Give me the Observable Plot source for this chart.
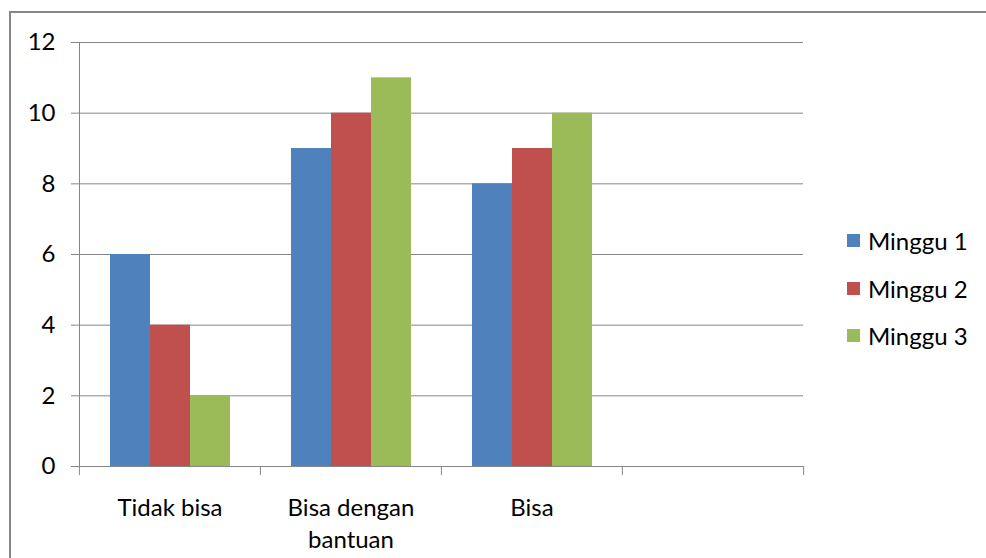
<!DOCTYPE html>
<html><head><meta charset="utf-8">
<script src="https://cdn.jsdelivr.net/npm/d3@7"></script>
<script src="https://cdn.jsdelivr.net/npm/@observablehq/plot@0.6"></script>
<style>
html,body{margin:0;padding:0;background:#fff;overflow:hidden;}
#wrap{position:relative;width:986px;height:558px;overflow:hidden;}
#border{position:absolute;left:9px;top:11px;width:1000px;height:600px;border:2px solid #878787;box-sizing:border-box;pointer-events:none;}
#legend{position:absolute;left:847px;top:217px;font-family:Lato, sans-serif;font-size:24px;color:#000;}
.item{display:flex;align-items:center;height:47.5px;}
.sw{width:13px;height:13px;margin-right:8px;flex:none;}
</style></head><body>
<div id="wrap"><div id="chart"></div><div id="legend"></div><div id="border"></div></div>
<script>
const categories = ["Tidak bisa", "Bisa dengan bantuan", "Bisa", ""];
const categoryLabels = ["Tidak bisa", "Bisa dengan\nbantuan", "Bisa", ""];
const series = ["Minggu 1", "Minggu 2", "Minggu 3"];
const minggu1 = [6, 9, 8];
const minggu2 = [4, 10, 9];
const minggu3 = [2, 11, 10];
const yTicks = [0, 2, 4, 6, 8, 10, 12];
const colors = ["#4f81bd", "#c0504d", "#9bbb59"];

const values = [minggu1, minggu2, minggu3];
const rows = [];
minggu1.forEach((_, i) => series.forEach((s, j) => rows.push({cat: categories[i], series: s, value: values[j][i]})));

const W = 986, H = 558, ml = 78, mr = 183, mt = 42, mb = 92;
const half = (W - ml - mr) / categories.length / 2;
const gray = "#868686";

const plot = Plot.plot({
  width: W, height: H,
  marginLeft: ml, marginRight: mr, marginTop: mt, marginBottom: mb,
  style: {fontFamily: "Lato, sans-serif", fontSize: "24px", color: "#000", background: "transparent"},
  fx: {domain: categories, padding: 0},
  x: {domain: series, paddingInner: 0, paddingOuter: 0.75, axis: null},
  y: {domain: [0, 12]},
  color: {domain: series, range: colors},
  marks: [
    Plot.gridY({ticks: yTicks, stroke: gray, strokeOpacity: 1}),
    Plot.axisY({ticks: yTicks, tickSize: 8, tickPadding: 16, stroke: gray, strokeOpacity: 1, fontSize: 24, label: null, tickFormat: d => String(d)}),
    Plot.barY(rows, {fx: "cat", x: "series", y: "value", fill: "series", inset: 0}),
    Plot.ruleY([0], {stroke: gray}),
    Plot.frame({anchor: "left", stroke: gray, facet: "super"}),
    Plot.axisFx({anchor: "bottom", tickSize: 9, dx: -half, tickFormat: () => "", stroke: gray, strokeOpacity: 1, label: null}),
    Plot.axisFx({anchor: "bottom", ticks: [categories[categories.length - 1]], tickSize: 9, dx: half, tickFormat: () => "", stroke: gray, strokeOpacity: 1, label: null}),
    Plot.text(categories, {fx: d => d, text: (d, i) => categoryLabels[i], frameAnchor: "bottom", lineAnchor: "top", dy: 26, lineHeight: 1.35, fontSize: 24, fill: "#000"})
  ]
});
document.getElementById("chart").appendChild(plot);

const legend = document.getElementById("legend");
series.forEach((s, i) => {
  const item = document.createElement("div");
  item.className = "item";
  const sw = document.createElement("div");
  sw.className = "sw";
  sw.style.background = colors[i];
  const t = document.createElement("span");
  t.textContent = s;
  item.appendChild(sw);
  item.appendChild(t);
  legend.appendChild(item);
});
</script>
</body></html>
